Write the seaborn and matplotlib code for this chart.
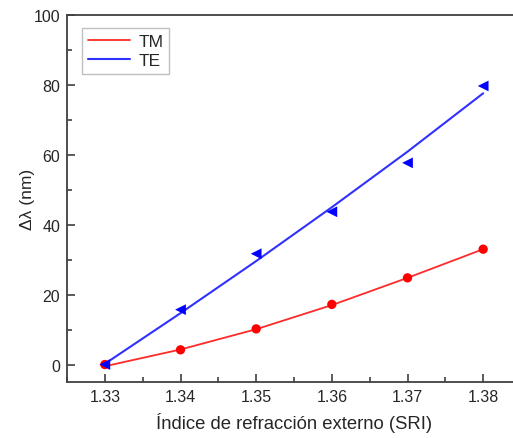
import numpy as np
import pandas as pd
import matplotlib.pyplot as plt
import seaborn as sns
from matplotlib.ticker import MultipleLocator

# --- dados ---
sri = [1.33, 1.34, 1.35, 1.36, 1.37, 1.38]
tm_medido = [0.0, 4.2, 10.2, 17.2, 24.8, 33.0]
te_medido = [0.0, 15.7, 31.7, 43.7, 57.7, 79.7]
# curvas de ajuste
tm_ajuste = [-0.5, 4.3, 10.1, 17.0, 24.8, 33.0]
te_ajuste = [0.2, 14.7, 29.6, 45.0, 60.9, 77.6]

df = pd.DataFrame({'sri': sri, 'tm': tm_medido, 'te': te_medido,
                   'tm_fit': tm_ajuste, 'te_fit': te_ajuste})

sns.set_style('ticks')
plt.rcParams['font.family'] = ['Liberation Sans', 'DejaVu Sans']
plt.rcParams['xtick.direction'] = 'in'
plt.rcParams['ytick.direction'] = 'in'

fig = plt.figure(figsize=(5.13, 4.39), dpi=100)
ax = fig.add_axes([67 / 513, 56 / 439, (521 - 67) / 513, (383 - 16) / 439])

sns.lineplot(data=df, x='sri', y='tm_fit', color='#ff2a2a', lw=1.3, label='TM', ax=ax)
sns.lineplot(data=df, x='sri', y='te_fit', color='#3030ff', lw=1.5, label='TE', ax=ax)
sns.scatterplot(data=df, x='sri', y='tm', color='#ff0000', marker='o', s=45,
                edgecolor='none', ax=ax, zorder=3)
sns.scatterplot(data=df, x='sri', y='te', color='#0000ff', marker='<', s=60,
                edgecolor='none', ax=ax, zorder=3)

ax.set_xlim(1.325, 1.385)
ax.set_ylim(-5, 100)
ax.xaxis.set_major_locator(MultipleLocator(0.01))
ax.xaxis.set_minor_locator(MultipleLocator(0.005))
ax.yaxis.set_major_locator(MultipleLocator(20))
ax.yaxis.set_minor_locator(MultipleLocator(10))
ax.xaxis.set_major_formatter(plt.FormatStrFormatter('%.2f'))

for s in ax.spines.values():
    s.set_color('#404040')
    s.set_linewidth(1.3)
ax.spines['right'].set_visible(False)
ax.tick_params(which='major', length=6, width=1.2, color='#404040',
               labelsize=11.5, labelcolor='#262626', pad=5)
ax.tick_params(which='minor', length=3.5, width=1.2, color='#404040')

ax.set_xlabel('Índice de refracción externo (SRI)', fontsize=13.3, color='#262626', labelpad=6)
ax.set_ylabel('Δλ (nm)', fontsize=12.5, color='#262626', labelpad=-1)

leg = ax.legend(loc='upper left', bbox_to_anchor=(0.033, 0.965), fontsize=12.5,
                frameon=True, fancybox=False, handlelength=2.4, borderpad=0.35,
                labelspacing=0.2, handletextpad=0.5, borderaxespad=0)
leg.get_frame().set_edgecolor('#b0b0b0')
leg.get_frame().set_linewidth(1.0)

fig.savefig('out.png', dpi=100)
